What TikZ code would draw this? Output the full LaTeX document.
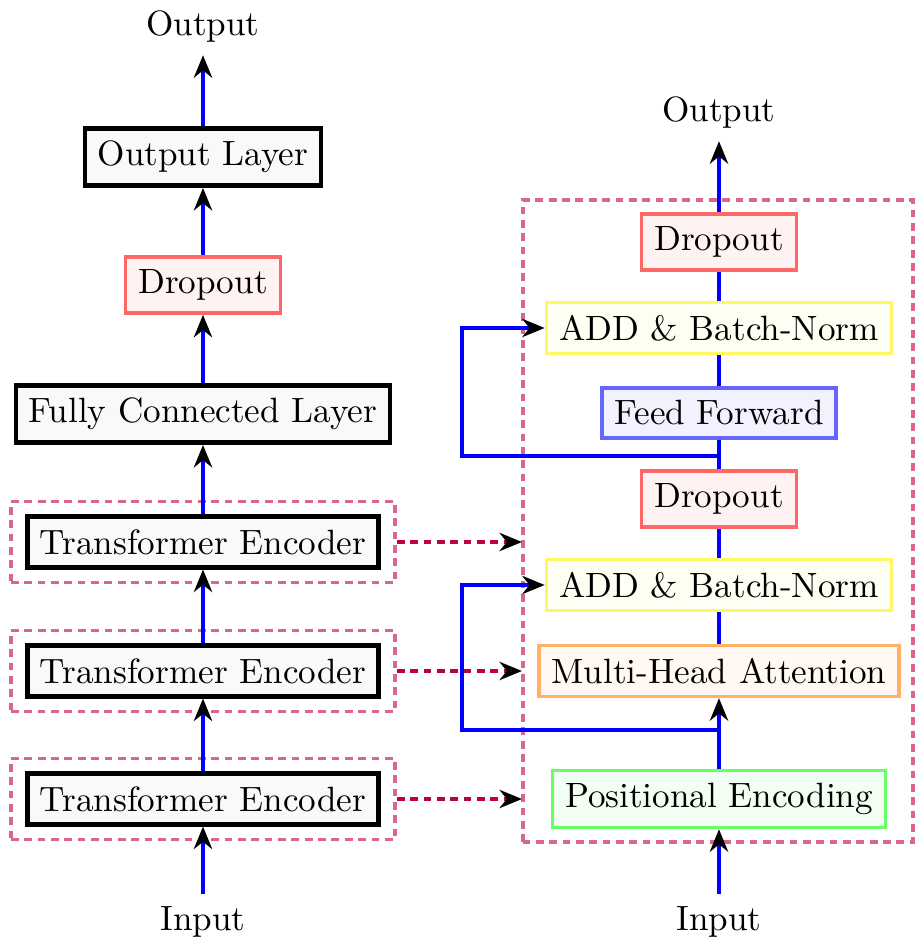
\documentclass[tikz,border=0pt]{standalone}
\usepackage{tikz}
\usetikzlibrary{arrows.meta, positioning, fit, calc}
\definecolor{encPurple}{HTML}{BF0040}
\tikzset{
  tip/.style       = {-{Stealth[black, length=6.4pt, width=5.2pt]}},
  flow/.style      = {blue, line width=1.1pt},
  flowarrow/.style = {flow, tip},
  linkarrow/.style = {encPurple, line width=1.1pt, dash pattern=on 2.2pt off 1.6pt, tip},
  groupbox/.style  = {draw=encPurple!60, line width=1pt, dash pattern=on 2.2pt off 1.6pt},
  layer/.style     = {draw=black, line width=1.3pt, fill=gray!5, inner sep=3.6pt},
  block/.style     = {draw=#1!60, line width=1pt, fill=#1!5, inner sep=3.6pt},
  lbl/.style       = {font=\normalsize},
}

\begin{document}
\begin{tikzpicture}

\useasboundingbox (0,0) rectangle (9.14,9.44);

% ---- left: full model --------------------------------------------------
\node[lbl]          (outL)  at (2.03,9.17) {Output};
\node[layer]        (outly) at (2.03,7.87) {Output Layer};
\node[block=red]    (dropL) at (2.03,6.59) {Dropout};
\node[layer]        (fc)    at (2.03,5.30) {Fully Connected Layer};
\node[layer]        (te1)   at (2.03,4.02) {Transformer Encoder};
\node[layer]        (te2)   at (2.03,2.73) {Transformer Encoder};
\node[layer]        (te3)   at (2.03,1.45) {Transformer Encoder};
\node[lbl]          (inL)   at (2.03,0.22) {Input};

\foreach \t in {te1,te2,te3}
  \node[groupbox, fit=(\t), inner xsep=0.14cm, inner ysep=0.13cm] (\t box) {};

\draw[flowarrow] (inL)   -- (te3);
\draw[flowarrow] (te3)   -- (te2);
\draw[flowarrow] (te2)   -- (te1);
\draw[flowarrow] (te1)   -- (fc);
\draw[flowarrow] (fc)    -- (dropL);
\draw[flowarrow] (dropL) -- (outly);
\draw[flowarrow] (outly) -- (outL);

% ---- right: one encoder block ------------------------------------------
\node[lbl]          (outR)  at (7.19,8.31) {Output};
\node[block=red]    (drop1) at (7.19,7.02) {Dropout};
\node[block=yellow] (add1)  at (7.19,6.16) {ADD \& Batch-Norm};
\node[block=blue]   (ff)    at (7.19,5.31) {Feed Forward};
\node[block=red]    (drop2) at (7.19,4.45) {Dropout};
\node[block=yellow] (add2)  at (7.19,3.59) {ADD \& Batch-Norm};
\node[block=orange] (mha)   at (7.19,2.73) {Multi-Head Attention};
\node[block=green]  (pe)    at (7.19,1.45) {Positional Encoding};
\node[lbl]          (inR)   at (7.19,0.22) {Input};

\draw[groupbox] (5.23,1.02) rectangle (9.13,7.44);

\draw[flowarrow] (inR)   -- (pe);
\draw[flowarrow] (pe)    -- (mha);
\draw[flow]      (mha)   -- (add2);
\draw[flow]      (add2)  -- (drop2);
\draw[flow]      (drop2) -- (ff);
\draw[flow]      (ff)    -- (add1);
\draw[flow]      (add1)  -- (drop1);
\draw[flowarrow] (drop1) -- (outR);

% residual paths
\coordinate (skip1) at (7.19,4.88);
\coordinate (knee1) at (4.62,4.88);
\coordinate (skip2) at (7.19,2.14);
\coordinate (knee2) at (4.62,2.14);
\draw[flowarrow] (skip1) -- (knee1) |- (add1.west);
\draw[flowarrow] (skip2) -- (knee2) |- (add2.west);

% encoder links
\coordinate (in1) at (5.22,4.02);
\coordinate (in2) at (5.22,2.73);
\coordinate (in3) at (5.22,1.45);
\draw[linkarrow] (te1box.east) -- (in1);
\draw[linkarrow] (te2box.east) -- (in2);
\draw[linkarrow] (te3box.east) -- (in3);

\end{tikzpicture}
\end{document}
